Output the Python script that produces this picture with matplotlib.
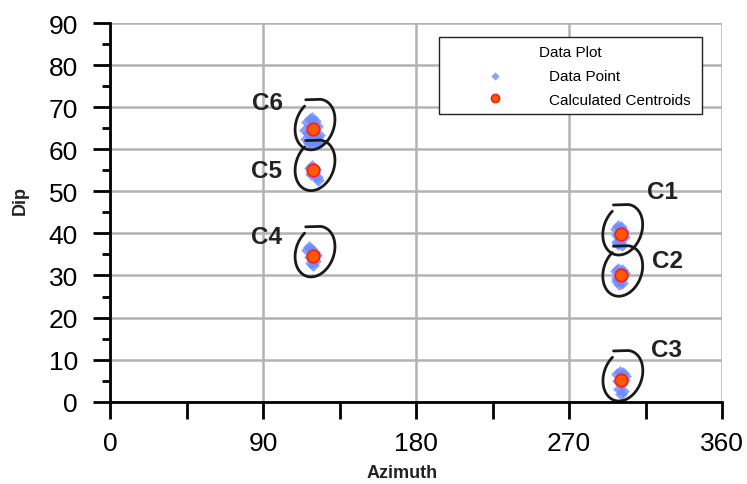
import numpy as np
import matplotlib
matplotlib.use('Agg')
import matplotlib.pyplot as plt
from matplotlib.ticker import MultipleLocator
from matplotlib.transforms import ScaledTranslation

plt.rcParams['font.family'] = ['Liberation Sans', 'DejaVu Sans']

# Measured orientations (azimuth, dip) for each cluster
az_c1 = [297.5, 299, 300.5, 302, 298, 300, 302.5, 299, 301, 298.5, 301.5]
dip_c1 = [41, 41.8, 41.5, 40.5, 39.5, 38.8, 39.2, 37.5, 37.2, 38, 40]
az_c2 = [297.5, 299, 301, 302.5, 298, 300, 302, 299.5, 301, 298.5]
dip_c2 = [31, 31.5, 31.3, 30.5, 29.5, 29, 29.8, 28, 28.2, 28.8]
az_c3 = [298.5, 300, 301.5, 303, 299, 301, 302.5, 299.5, 301.5, 300.5]
dip_c3 = [6.5, 7, 6.8, 6, 5, 4.5, 5.2, 3, 2.5, 1.8]
az_c4 = [116, 117, 118.5, 120, 117.5, 119, 120.5, 118, 119.5, 121]
dip_c4 = [36, 36.7, 36.2, 35.5, 34.5, 34, 33.5, 33, 32.6, 34.8]
az_c5 = [117.5, 119, 120.5, 118.5, 120, 121.5, 122.5, 119.5]
dip_c5 = [55.5, 56, 55.2, 54.2, 54.5, 53.5, 52.8, 55]
az_c6 = [114.5, 116, 117.5, 119, 120.5, 122, 115.5, 117, 119.5, 121.5, 123, 118, 120, 122.5, 116.5, 119, 121]
dip_c6 = [64.5, 66.5, 67.2, 67.5, 66.8, 65.5, 62.5, 61.5, 62.8, 63, 63.5, 64, 65, 61.8, 63.8, 61.2, 61.5]

# Calculated centroids
cluster_names = ['C1', 'C2', 'C3', 'C4', 'C5', 'C6']
cen_az = [300.4, 300.4, 300.5, 119.4, 119.4, 119.4]
cen_dip = [39.8, 30.0, 5.1, 34.6, 55.1, 64.8]

# where the cluster names are written
name_az = [324.7, 328.0, 327.6, 91.8, 91.8, 92.4]
name_dip = [50.0, 33.6, 12.4, 39.2, 55.0, 71.0]

fig = plt.figure(figsize=(7.47, 4.85), dpi=100)
ax = fig.add_axes([0.1473, 0.1697, 0.8193, 0.7808])

all_az = az_c1 + az_c2 + az_c3 + az_c4 + az_c5 + az_c6
all_dip = dip_c1 + dip_c2 + dip_c3 + dip_c4 + dip_c5 + dip_c6
ax.scatter(all_az, all_dip, marker='D', s=42, color='#6d8bff', alpha=0.8,
           linewidths=0, zorder=3, label='Data Point')
ax.plot(cen_az, cen_dip, 'o', ms=9, mfc='#ff5a00', mec='#ff1a1a', mew=1.2,
        zorder=4, label='Calculated Centroids')

# hand-drawn style lasso around each cluster (offsets in pixels / 100 = inches)
A, B, phi = 19, 26, np.radians(20)
th = np.radians(np.linspace(103, -212, 240))
lx = A * np.cos(th) * np.cos(phi) + B * np.sin(th) * np.sin(phi)
ly = -A * np.cos(th) * np.sin(phi) + B * np.sin(th) * np.cos(phi)
lx = np.concatenate([[lx[0] - 14], lx]) + 2
ly = np.concatenate([[ly[0] - 0.5], ly]) + 4.5
for cx, cy in zip(cen_az, cen_dip):
    tr = fig.dpi_scale_trans + ScaledTranslation(cx, cy, ax.transData)
    ax.plot(lx / 100, ly / 100, color='#1a1a1a', lw=2, transform=tr,
            zorder=5, clip_on=False, solid_capstyle='round')

for name, x, y in zip(cluster_names, name_az, name_dip):
    ax.text(x, y, name, fontsize=17.5, fontweight='bold', color='#222222',
            ha='center', va='center')

ax.set_xlim(0, 360)
ax.set_ylim(0, 90)
ax.xaxis.set_major_locator(MultipleLocator(90))
ax.xaxis.set_minor_locator(MultipleLocator(45))
ax.yaxis.set_major_locator(MultipleLocator(10))
ax.yaxis.set_minor_locator(MultipleLocator(5))
ax.tick_params(axis='x', which='both', direction='out', length=12, width=2,
               labelsize=19, pad=9)
ax.tick_params(axis='y', which='major', direction='out', length=12, width=2,
               labelsize=19, pad=11)
ax.tick_params(axis='y', which='minor', direction='out', length=6, width=2)
ax.grid(True, which='major', color='#b3b3b3', lw=1.8, zorder=0)
ax.set_axisbelow(True)
for s in ['top', 'right']:
    ax.spines[s].set_visible(False)
for s in ['left', 'bottom']:
    ax.spines[s].set_linewidth(2)
    ax.spines[s].set_zorder(6)

ax.set_xlabel('Azimuth', fontsize=13, fontweight='bold', color='#222222', va='center')
ax.xaxis.set_label_coords(0.477, -0.186)
ax.set_ylabel('Dip', fontsize=13, fontweight='bold', color='#222222', va='center')
ax.yaxis.set_label_coords(-0.147, 0.535)

leg = ax.legend(title='Data Plot', loc='upper left',
                bbox_to_anchor=(0.5376, 0.764, 0.4297, 0.199), mode='expand',
                borderaxespad=0, fontsize=11, title_fontsize=11,
                markerscale=0.65, handlelength=6.3, handletextpad=0.4,
                borderpad=0.5, labelspacing=0.65, fancybox=False,
                framealpha=1, edgecolor='#222222')
leg.get_frame().set_linewidth(1)

fig.savefig('out.png', dpi=100)
